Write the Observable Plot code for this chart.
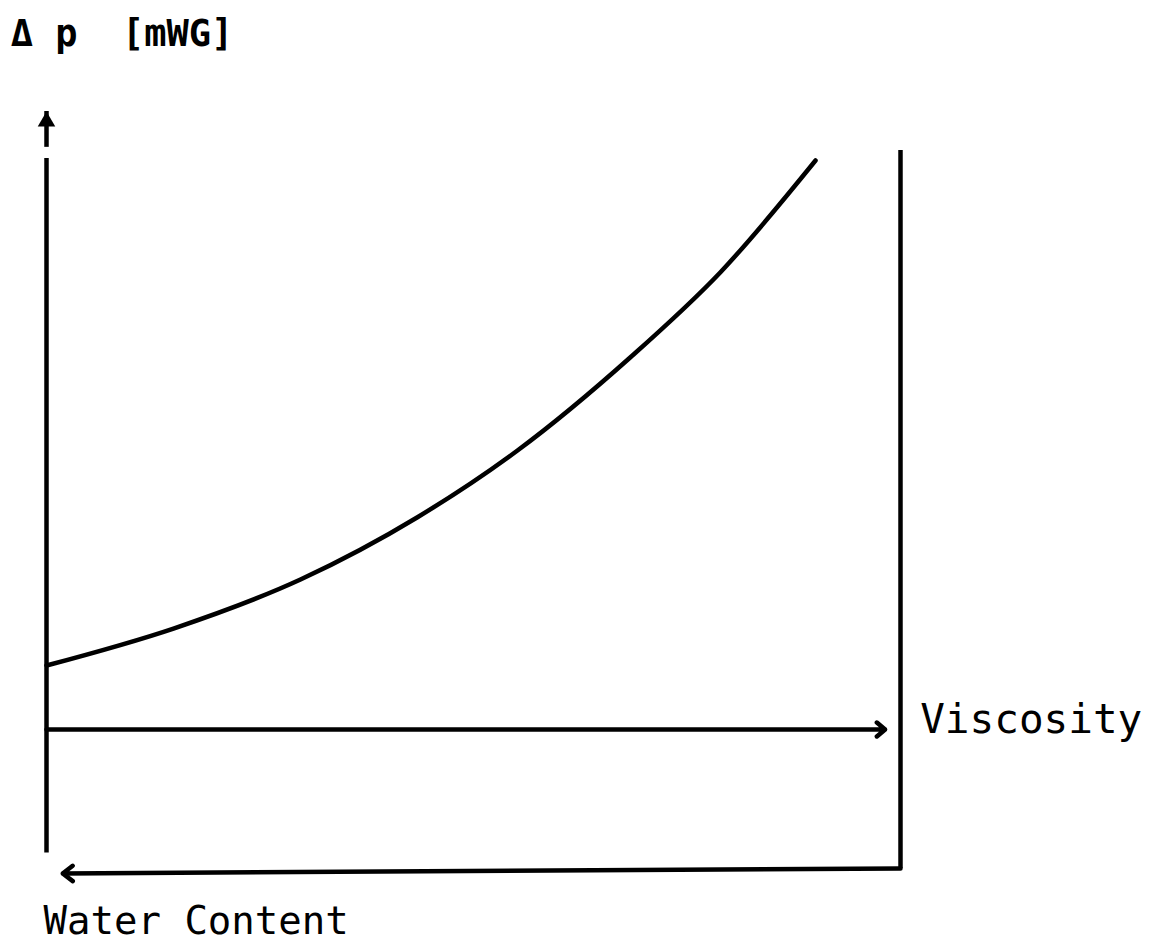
<!DOCTYPE html>
<html>
<head>
<meta charset="utf-8">
<script src="https://cdn.jsdelivr.net/npm/d3@7"></script>
<script src="https://cdn.jsdelivr.net/npm/@observablehq/plot@0.6"></script>
<style>
  html, body { margin: 0; padding: 0; background: #fff; }
  #chart svg { display: block; }
</style>
</head>
<body>
<div id="chart"></div>
<script>
// Curve: pressure drop vs viscosity (arbitrary schematic units)
const viscosity = [0, 14.87, 29.74, 43.44, 55.15, 68.38, 78.92, 90.05];
const deltaP    = [10.36, 16.34, 24.27, 34.35, 45.15, 60.24, 74.00, 92.07];

// Axis / frame elements (schematic units)
const yAxisLower = {x: 0, yFrom: -20, yTo: 92.4};
const yAxisUpper = {x: 0, yFrom: 94.2, yTo: 100};
const viscosityAxis = {xFrom: 0, xTo: 98.2, y: 0};
const rightFrame = {x: 100, yFrom: 93.7, yTo: -22.5};
const waterAxis = {xFrom: 100, xTo: 1.9, yFrom: -22.5, yTo: -23.3};

// Labels
const labelTexts = ["\u0394 p  [mWG]", "Viscosity", "Water Content"];
const labelX = [-4.2, 102.3, -0.35];
const labelY = [112.5, 1.6, -31.0];
const labelSize = [37, 41, 39];
const labelWeight = ["bold", "normal", "normal"];

const curve = viscosity.map((v, i) => ({v, p: deltaP[i]}));
const labels = labelTexts.map((t, i) => ({t, x: labelX[i], y: labelY[i], s: labelSize[i], w: labelWeight[i]}));

const sw = 4.5;
const font = "DejaVu Sans Mono";

const marks = [
  Plot.ruleX([yAxisLower], {x: "x", y1: "yFrom", y2: "yTo", stroke: "black", strokeWidth: sw}),
  Plot.ruleX([yAxisUpper], {x: "x", y1: "yFrom", y2: "yTo", stroke: "black", strokeWidth: sw}),
  Plot.dot([yAxisUpper], {x: "x", y: "yTo", symbol: "triangle", r: 6.5, fill: "black", dy: 10}),
  Plot.arrow([viscosityAxis], {x1: "xFrom", x2: "xTo", y1: "y", y2: "y", stroke: "black", strokeWidth: sw, headLength: 3.6, headAngle: 80}),
  Plot.ruleX([rightFrame], {x: "x", y1: "yFrom", y2: "yTo", stroke: "black", strokeWidth: sw}),
  Plot.arrow([waterAxis], {x1: "xFrom", x2: "xTo", y1: "yFrom", y2: "yTo", stroke: "black", strokeWidth: sw, headLength: 4.2, headAngle: 75}),
  Plot.line(curve, {x: "v", y: "p", curve: "monotone-x", stroke: "black", strokeWidth: sw, strokeLinecap: "round"})
];
for (const l of labels) {
  marks.push(Plot.text([l], {
    x: "x", y: "y", text: "t", textAnchor: "start", fontSize: l.s, fontWeight: l.w,
    fontFamily: font, fill: "black"
  }));
}

const chart = Plot.plot({
  width: 1157,
  height: 946,
  margin: 0,
  x: {domain: [0, 100], range: [46, 900], axis: null},
  y: {domain: [0, 100], range: [729, 111], axis: null},
  style: {background: "white"},
  marks
});
document.getElementById("chart").append(chart);
</script>
</body>
</html>
